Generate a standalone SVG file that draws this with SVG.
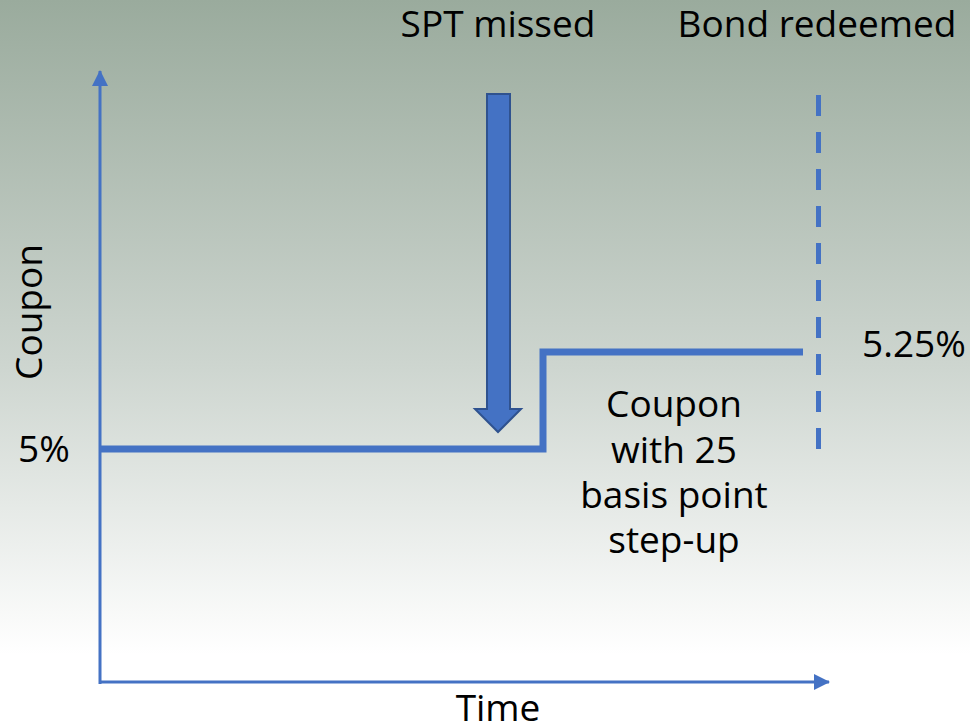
<svg xmlns="http://www.w3.org/2000/svg" width="970" height="727" viewBox="0 0 970 727">
<defs>
<linearGradient id="bg" x1="0" y1="0" x2="0" y2="1">
<stop offset="0" stop-color="#9aab9d"/>
<stop offset="0.5" stop-color="#cdd5cf"/>
<stop offset="0.9" stop-color="#ffffff"/>
<stop offset="1" stop-color="#ffffff"/>
</linearGradient>
<marker id="ah" viewBox="0 0 16 16" refX="15" refY="8" markerWidth="16" markerHeight="16" markerUnits="userSpaceOnUse" orient="auto">
<path d="M0,0 L16,8 L0,16 Z" fill="#4472c4"/>
</marker>
<style>
text{font-family:"Open Sans","Noto Sans","Liberation Sans",sans-serif;font-size:37px;fill:#000}
.ax{stroke:#4472c4;stroke-width:3;fill:none}
</style>
</defs>
<rect width="970" height="727" fill="url(#bg)"/>
<g id="connectors">
<line class="ax" x1="100" y1="684" x2="100" y2="71" marker-end="url(#ah)"/>
<line class="ax" x1="99" y1="682" x2="829" y2="682" marker-end="url(#ah)"/>
<polyline points="100,449 543,449 543,352 803,352" fill="none" stroke="#4472c4" stroke-width="7"/>
<line x1="818.5" y1="95" x2="818.5" y2="453" stroke="#4472c4" stroke-width="5" stroke-dasharray="21 16"/>
<path d="M487,94 L510,94 L510,409 L521,409 L498,432 L475,409 L487,409 Z" fill="#4472c4" stroke="#2f528f" stroke-width="2"/>
</g>
<g id="labels">
<text x="498" y="37" text-anchor="middle">SPT missed</text>
<text x="817" y="37" text-anchor="middle">Bond redeemed</text>
<text transform="translate(42,312) rotate(-90)" text-anchor="middle">Coupon</text>
<text x="18" y="462">5%</text>
<text x="862" y="357">5.25%</text>
<text x="674" y="417" text-anchor="middle">Coupon</text>
<text x="674" y="463" text-anchor="middle">with 25</text>
<text x="674" y="508" text-anchor="middle">basis point</text>
<text x="674" y="553" text-anchor="middle">step-up</text>
<text x="498" y="721" text-anchor="middle">Time</text>
</g>
</svg>
